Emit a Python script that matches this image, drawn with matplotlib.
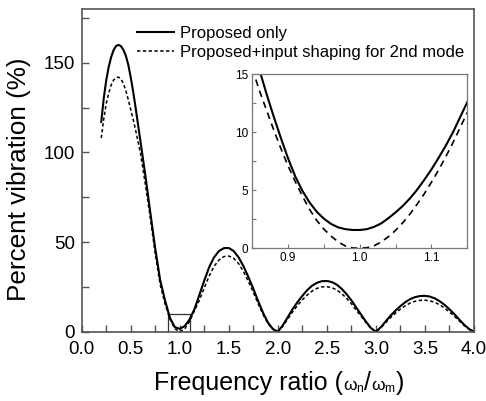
import matplotlib
matplotlib.use("Agg")
import matplotlib.pyplot as plt
from matplotlib.patches import Rectangle
from matplotlib.ticker import MultipleLocator
from matplotlib.offsetbox import TextArea, HPacker, AnchoredOffsetbox

plt.rcParams['font.family'] = ['Liberation Sans', 'DejaVu Sans']
plt.rcParams['mathtext.fontset'] = 'custom'
plt.rcParams['mathtext.rm'] = 'Liberation Sans'
plt.rcParams['mathtext.it'] = 'Liberation Sans'

# ---- data ----
ratio = [0.20, 0.225, 0.25, 0.275, 0.30, 0.325, 0.35, 0.375, 0.40, 0.425, 0.45, 0.475, 0.50, 0.525,
         0.55, 0.60, 0.65, 0.70, 0.75, 0.80, 0.85,
         0.90, 0.95, 1.00, 1.05, 1.10, 1.15, 1.20, 1.25, 1.30, 1.35, 1.40, 1.45, 1.50, 1.55, 1.60,
         1.65, 1.70, 1.75, 1.80, 1.85, 1.90, 1.95, 2.00, 2.05, 2.10, 2.15, 2.20, 2.25, 2.30, 2.35,
         2.40, 2.45, 2.50, 2.55, 2.60, 2.65, 2.70, 2.75, 2.80, 2.85, 2.90, 2.95, 3.00, 3.05, 3.10,
         3.15, 3.20, 3.25, 3.30, 3.35, 3.40, 3.45, 3.50, 3.55, 3.60, 3.65, 3.70, 3.75, 3.80, 3.85,
         3.90, 3.95, 4.00]
proposed_only = [117, 130, 140, 147.5, 153, 157, 159.3, 160, 159.3, 157.3, 154, 149, 142, 134,
                 125, 106, 87, 66.5, 46.5, 29, 17.5,
                 7.75, 2.55, 1.6, 3.1, 6.8, 12.6, 20.5, 28.5, 36, 41.5, 45, 46.6, 46.7, 45, 41.5,
                 36.5, 30.5, 24, 17, 10.5, 5, 1.5, 0, 3.5, 8, 12.5, 16.5, 20, 23.2, 25.7,
                 27.3, 28.2, 28.3, 27.7, 26.3, 24, 21, 17.5, 13.5, 9.5, 5.5, 2, 0, 2.5, 5.8,
                 9, 11.8, 14.3, 16.5, 18.2, 19.3, 19.9, 20.0, 19.6, 18.6, 17, 15, 12.5, 9.8, 6.8,
                 3.9, 1.5, 0]
proposed_shaping = [108, 118.5, 127, 133, 137.5, 140.3, 141.7, 142, 141, 138.5, 134.5, 129.5, 124, 118.5,
                    112.5, 99.5, 82, 63.5, 43.5, 26.5, 15.5,
                    7.1, 1.65, 0, 1.55, 5.7, 11.7, 17.5, 24.5, 31, 36.5, 40, 41.9, 42.2, 41, 38,
                    33.5, 28, 22, 15.5, 9.5, 4.5, 1.3, 0, 3, 7, 11, 14.6, 17.8, 20.5, 22.7,
                    24.2, 25, 25.1, 24.6, 23.3, 21.3, 18.7, 15.6, 12, 8.5, 5, 1.8, 0, 2.2, 5.1,
                    7.9, 10.4, 12.6, 14.5, 16, 17, 17.5, 17.6, 17.2, 16.4, 15, 13.2, 11, 8.6, 6,
                    3.4, 1.3, 0]

# zoomed region near ratio = 1
zoom_ratio = [0.85, 0.86, 0.87, 0.88, 0.89, 0.90, 0.91, 0.92, 0.93, 0.94, 0.95, 0.96, 0.97, 0.98,
              0.99, 1.00, 1.01, 1.02, 1.03, 1.04, 1.05, 1.06, 1.07, 1.08, 1.09, 1.10, 1.11, 1.12,
              1.13, 1.14, 1.15]
zoom_proposed_only = [17.5, 15.4, 13.3, 11.35, 9.5, 7.75, 6.2, 4.95, 3.95, 3.15, 2.55, 2.1, 1.8, 1.65,
                      1.58, 1.58, 1.65, 1.85, 2.15, 2.6, 3.1, 3.65, 4.3, 5.05, 5.9, 6.8, 7.8, 8.85,
                      10.0, 11.3, 12.6]
zoom_proposed_shaping = [15.5, 13.6, 11.9, 10.2, 8.6, 7.1, 5.75, 4.5, 3.35, 2.4, 1.65, 1.05, 0.55, 0.2,
                         0.03, 0.0, 0.05, 0.22, 0.55, 1.0, 1.55, 2.2, 2.95, 3.8, 4.7, 5.7, 6.75, 7.9,
                         9.1, 10.4, 11.7]

legend_labels = ["Proposed only", "Proposed+input shaping for 2nd mode"]

fig = plt.figure(figsize=(4.86, 4.01), dpi=100)
ax = fig.add_axes([0.168, 0.1728, 0.8073, 0.8048])
spine_c = '#555555'

ax.plot(ratio, proposed_only, color='black', lw=1.5, label=legend_labels[0])
ax.plot(ratio, proposed_shaping, color='black', lw=1.1, ls=(0, (2.2, 1.6)), label=legend_labels[1])
ax.add_patch(Rectangle((0.88, 0), 0.225, 10, fill=False, edgecolor='#333333', lw=0.9))

ax.set_xlim(0, 4.0)
ax.set_ylim(0, 180)
ax.xaxis.set_major_locator(MultipleLocator(0.5))
ax.xaxis.set_minor_locator(MultipleLocator(0.25))
ax.yaxis.set_major_locator(MultipleLocator(50))
ax.yaxis.set_minor_locator(MultipleLocator(25))
ax.tick_params(which='both', direction='in', color=spine_c, labelsize=13.5)
ax.tick_params(axis='x', which='both', pad=6.5)
ax.tick_params(axis='y', which='both', pad=5)
ax.tick_params(which='major', length=5, width=1)
ax.tick_params(which='minor', length=5, width=1)
for s in ax.spines.values():
    s.set_color(spine_c)
    s.set_linewidth(1.2)
ax.xaxis.set_major_formatter(plt.FuncFormatter(lambda v, p: f"{v:.1f}"))
ax.yaxis.set_major_formatter(plt.FuncFormatter(lambda v, p: f"{v:.0f}"))

ax.set_ylabel('Percent vibration (%)', fontsize=18.8)
ax.yaxis.set_label_coords(-0.128, 0.473)

# x label: regular text with smaller omega symbols
parts = [TextArea("Frequency ratio (", textprops=dict(fontsize=18)),
         TextArea(r"$\omega_{n}$", textprops=dict(fontsize=12.5)),
         TextArea("/", textprops=dict(fontsize=18)),
         TextArea(r"$\omega_{m}$", textprops=dict(fontsize=12.5)),
         TextArea(")", textprops=dict(fontsize=18))]
xlab = HPacker(children=parts, align="baseline", pad=0, sep=0)
anch = AnchoredOffsetbox(loc='center', child=xlab, pad=0, borderpad=0, frameon=False,
                         bbox_to_anchor=(279 / 486, 1 - 383 / 401),
                         bbox_transform=fig.transFigure)
fig.add_artist(anch)

leg = ax.legend(loc='upper left', bbox_to_anchor=(0.142, 0.948), frameon=False,
                fontsize=12, handlelength=2.2, handletextpad=0.36, labelspacing=0.23,
                borderpad=0, borderaxespad=0)

ins = fig.add_axes([0.519, 0.3808, 0.4425, 0.4339])
ins.plot(zoom_ratio, zoom_proposed_only, color='black', lw=1.5)
ins.plot(zoom_ratio, zoom_proposed_shaping, color='black', lw=1.2, ls=(0, (4, 3)))
ins.set_xlim(0.85, 1.15)
ins.set_ylim(0, 15)
ins.xaxis.set_major_locator(MultipleLocator(0.1))
ins.xaxis.set_minor_locator(MultipleLocator(0.05))
ins.yaxis.set_major_locator(MultipleLocator(5))
ins.yaxis.set_minor_locator(MultipleLocator(2.5))
ins.tick_params(which='both', direction='in', color='#777777', labelsize=8.5, length=3, width=0.8, pad=3)
ins.xaxis.set_major_formatter(plt.FuncFormatter(lambda v, p: f"{v:.1f}"))
ins.yaxis.set_major_formatter(plt.FuncFormatter(lambda v, p: f"{v:.0f}"))
for s in ins.spines.values():
    s.set_color('#777777')
    s.set_linewidth(0.9)

fig.savefig('out.png', dpi=100)
